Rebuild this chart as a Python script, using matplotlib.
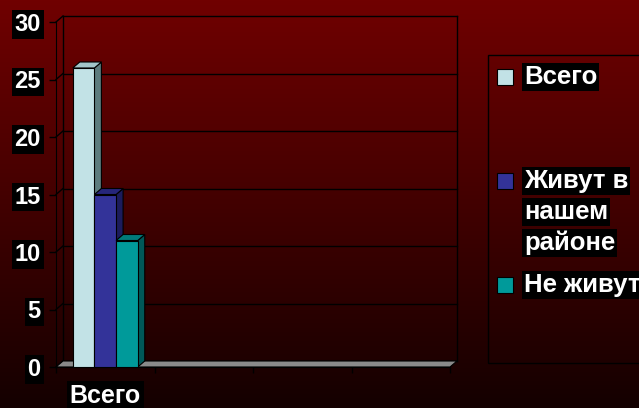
import numpy as np
import matplotlib
matplotlib.use("Agg")
import matplotlib.pyplot as plt
from matplotlib.patches import Polygon, Rectangle

categories = ["Всего", "", "", ""]
series_labels = ["Всего", "Живут в\nнашем\nрайоне", "Не живут"]
series_values = [26, 15, 11]
front_colors = ["#c2e2e6", "#333399", "#009a9a"]
side_colors = ["#5d7c7e", "#1c1c5c", "#005858"]
top_colors = ["#a3c5c9", "#26267a", "#007a7a"]
yticks = [0, 5, 10, 15, 20, 25, 30]

W, H, DPI = 639, 408, 100
plt.rcParams['font.family'] = ['Liberation Sans', 'DejaVu Sans']
fig = plt.figure(figsize=(W / DPI, H / DPI), dpi=DPI)

# background gradient
bg = fig.add_axes([0, 0, 1, 1], zorder=-10)
t = np.linspace(0, 1, 256)[:, None]
top = np.array([112, 0, 0]) / 255
bot = np.array([20, 0, 0]) / 255
grad = top[None, None, :] * (1 - t[..., None]) + bot[None, None, :] * t[..., None]
grad = np.repeat(grad, 2, axis=1)
bg.imshow(grad, aspect='auto', extent=[0, 1, 0, 1])
bg.set_axis_off()

# main axes (front plane)
x0p, x1p, y0p, y1p = 56, 450, 367, 22
ax = fig.add_axes([x0p / W, (H - y0p) / H, (x1p - x0p) / W, (y0p - y1p) / H])
ax.patch.set_alpha(0)
ax.set_xlim(0, len(categories))
ax.set_ylim(0, 30)

# depth in data units from pixel offset
p0 = ax.transData.transform((0, 0))
inv = ax.transData.inverted()
ddx, ddy = inv.transform(p0 + np.array([7, 6]))
n = len(categories)

# back wall grid and left wall
for y in yticks:
    ax.plot([ddx, n + ddx], [y + ddy, y + ddy], color='black', lw=1, clip_on=False, zorder=1)
    ax.plot([0, ddx], [y, y + ddy], color='black', lw=1, clip_on=False, zorder=1)
ax.plot([ddx, ddx], [ddy, 30 + ddy], color='black', lw=1, clip_on=False, zorder=1)
ax.plot([n + ddx, n + ddx], [ddy, 30 + ddy], color='black', lw=1, clip_on=False, zorder=1)

# floor
ax.add_patch(Polygon([(0, 0), (n, 0), (n + ddx, ddy), (ddx, ddy)], closed=True,
                     facecolor='#8a8a8a', edgecolor='black', lw=0.8, clip_on=False, zorder=2))

# bars
width = 0.22
centers = [0.5 + (i - 1) * width for i in range(len(series_values))]
z = 3
for i, (c, v) in enumerate(zip(centers, series_values)):
    xa, xb = c - width / 2, c + width / 2
    ax.add_patch(Polygon([(xb, 0), (xb + ddx, ddy), (xb + ddx, v + ddy), (xb, v)], closed=True,
                         facecolor=side_colors[i], edgecolor='black', lw=0.8, clip_on=False, zorder=z))
    ax.add_patch(Polygon([(xa, v), (xb, v), (xb + ddx, v + ddy), (xa + ddx, v + ddy)], closed=True,
                         facecolor=top_colors[i], edgecolor='black', lw=0.8, clip_on=False, zorder=z))
    ax.bar([c], [v], width=width, color=front_colors[i], edgecolor='black', lw=0.8,
           zorder=z + 1, clip_on=False)
    z += 2

# spines
for s in ['top', 'right']:
    ax.spines[s].set_visible(False)
ax.spines['left'].set_color('black')
ax.spines['bottom'].set_color('black')
ax.spines['left'].set_zorder(2)

# ticks
ax.set_yticks(yticks)
ax.tick_params(axis='y', direction='out', length=5, width=1, color='black', pad=6,
               labelsize=17, labelcolor='white')
ax.set_xticks([i + 0.5 for i in range(n)])
ax.set_xticklabels(categories)
ax.set_xticks(list(range(n + 1)), minor=True)
ax.tick_params(axis='x', which='major', length=0, pad=12, labelsize=18, labelcolor='white')
ax.tick_params(axis='x', which='minor', length=4, width=1, color='black', direction='out')
for lbl in ax.get_yticklabels() + ax.get_xticklabels():
    lbl.set_fontweight('bold')
    lbl.set_bbox(dict(facecolor='black', edgecolor='none', pad=2))

# legend (drawn manually)
fig.patches.append(Rectangle((488 / W, (H - 363) / H), (700 - 488) / W, (363 - 55) / H,
                             transform=fig.transFigure, facecolor='none', edgecolor='black', lw=1))
entry_y = [77, 181, 285]
line_h = 31
for i, lab in enumerate(series_labels):
    yc = entry_y[i]
    fig.patches.append(Rectangle((497 / W, (H - yc - 8) / H), 16 / W, 16 / H,
                                 transform=fig.transFigure, facecolor=front_colors[i],
                                 edgecolor='black', lw=0.8))
    for k, line in enumerate(lab.split("\n")):
        fig.text(524 / W, (H - yc - k * line_h) / H, line, color='white', fontsize=18.5,
                 fontweight='bold', va='center', ha='left',
                 bbox=dict(facecolor='black', edgecolor='none', pad=1.5))

fig.savefig("out.png", dpi=DPI)
